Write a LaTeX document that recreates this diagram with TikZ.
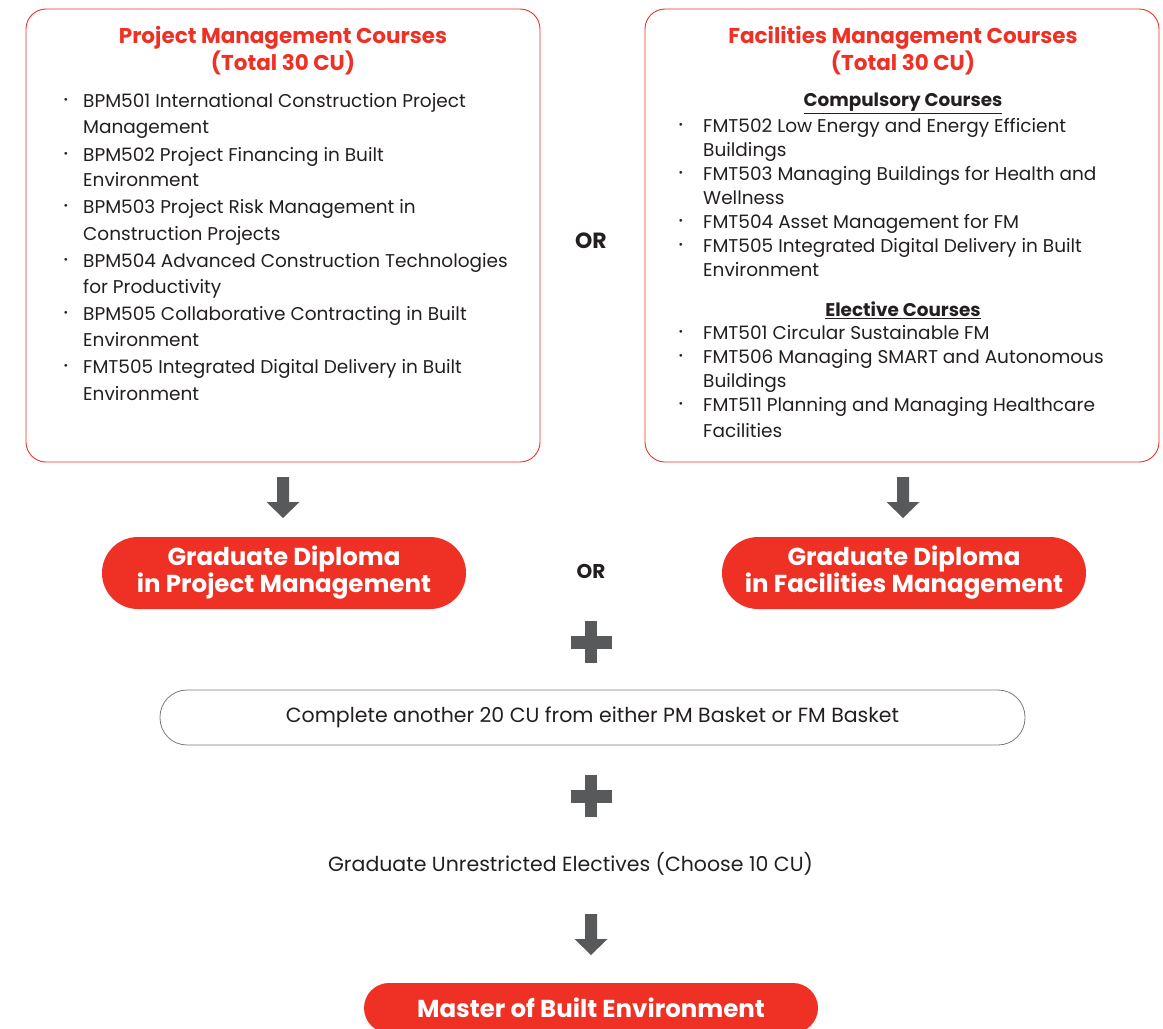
\documentclass[tikz,border=0pt]{standalone}
\usepackage{fontspec}
\setmainfont{Poppins}
\usepackage{xcolor}
\usetikzlibrary{positioning}

\definecolor{mbred}{HTML}{EE3124}
\definecolor{ink}{HTML}{231F20}
\definecolor{arrowgray}{HTML}{58595B}
\definecolor{edgegray}{HTML}{7A7A7A}

\tikzset{
  coursebox/.style={draw=mbred, line width=0.9pt, rounded corners=20pt,
    minimum width=514pt, minimum height=453pt},
  boxtitle/.style={text=mbred, align=center, font=\bfseries\fontsize{21.5}{27}\selectfont},
  subhead/.style={text=ink, font=\bfseries\fontsize{18.4}{20}\selectfont},
  courseline/.style={anchor=west, inner sep=0pt, text height=13pt, text depth=0pt,
    text=ink, font=\fontsize{18.5}{22}\selectfont},
  dot/.style={inner sep=0pt, text=ink, font=\fontsize{11}{11}\selectfont},
  orlabel/.style={text=ink, font=\bfseries\fontsize{22}{24}\selectfont},
  pill/.style={fill=mbred, rounded corners=36pt, minimum height=72pt, text=white,
    align=center, font=\bfseries\fontsize{24.5}{27}\selectfont},
  basket/.style={draw=edgegray, line width=0.8pt, rounded corners=27pt,
    minimum width=865pt, minimum height=55pt, text=ink, font=\fontsize{20.5}{24}\selectfont},
  plain/.style={text=ink, font=\fontsize{20.5}{24}\selectfont},
  pics/downarrow/.style={code={
    \fill[arrowgray] (-6,0) -- (6,0) -- (6,25) -- (16.5,25) -- (0,41)
      -- (-16.5,25) -- (-6,25) -- cycle;}},
  pics/plussign/.style={code={
    \fill[arrowgray] (-6,-21) rectangle (6,21);
    \fill[arrowgray] (-20.5,-6.5) rectangle (20.5,6.5);}}
}

\begin{document}
\begin{tikzpicture}[x=1pt, y=-1pt]
\useasboundingbox (0,0) rectangle (1163,1029);

% Course boxes
\node[coursebox] (pmbox) at (283,235.5) {};
\node[coursebox] (fmbox) at (902,235.5) {};
\node[boxtitle] (pmtitle) at (283,50.5) {Project Management Courses\\(Total 30 CU)};
\node[boxtitle] (fmtitle) at (903,50.5) {Facilities Management Courses\\(Total 30 CU)};

% PM course list (y / bullet / text)
\foreach \y/\b/\txt [count=\i] in {
    101/1/{BPM501 International Construction Project}, 127/0/{Management},
    155/1/{BPM502 Project Financing in Built}, 180/0/{Environment},
    207/1/{BPM503 Project Risk Management in}, 234/0/{Construction Projects},
    261/1/{BPM504 Advanced Construction Technologies}, 287/0/{for Productivity},
    314/1/{BPM505 Collaborative Contracting in Built}, 340/0/{Environment},
    367/1/{FMT505 Integrated Digital Delivery in Built}, 394/0/{Environment}} {
  \node[courseline] (pm-\i) at (83,\y) {\txt};
  \ifnum\b=1 \node[dot] (pmdot-\i) at (66,\y) {•}; \fi
}

% FM course list
\node[subhead] (compulsory) at (903,103.5) {\underline{Compulsory Courses}};
\node[subhead] (elective) at (903,310.5) {\underline{Elective Courses}};
\foreach \y/\b/\txt [count=\i] in {
    126/1/{FMT502 Low Energy and Energy Efficient}, 150/0/{Buildings},
    174/1/{FMT503 Managing Buildings for Health and}, 198/0/{Wellness},
    222/1/{FMT504 Asset Management for FM},
    246/1/{FMT505 Integrated Digital Delivery in Built}, 270/0/{Environment},
    333/1/{FMT501 Circular Sustainable FM},
    357/1/{FMT506 Managing SMART and Autonomous}, 381/0/{Buildings},
    405/1/{FMT511 Planning and Managing Healthcare}, 431/0/{Facilities}} {
  \node[courseline] (fm-\i) at (703,\y) {\txt};
  \ifnum\b=1 \node[dot] (fmdot-\i) at (681,\y) {•}; \fi
}

\node[orlabel] (or1) at (591,241) {OR};

% Diplomas
\pic at (283,477) {downarrow};
\pic at (903,477) {downarrow};
\node[pill, minimum width=364pt] (pmdip) at (284,573) {Graduate Diploma\\in Project Management};
\node[pill, minimum width=364pt] (fmdip) at (904,573) {Graduate Diploma\\in Facilities Management};
\node[orlabel, font=\bfseries\fontsize{20}{22}\selectfont] (or2) at (591,571) {OR};

% Remaining credits
\pic at (591,642) {plussign};
\node[basket] (pmfm) at (592.5,717.5) {Complete another 20 CU from either PM Basket or FM Basket};
\pic at (591,796) {plussign};
\node[plain] (gue) at (570.5,864) {Graduate Unrestricted Electives (Choose 10 CU)};
\pic at (591,914) {downarrow};

\node[pill, minimum width=454pt, minimum height=50pt, rounded corners=25pt] (mbe) at (591,1008) {Master of Built Environment};
\end{tikzpicture}
\end{document}
